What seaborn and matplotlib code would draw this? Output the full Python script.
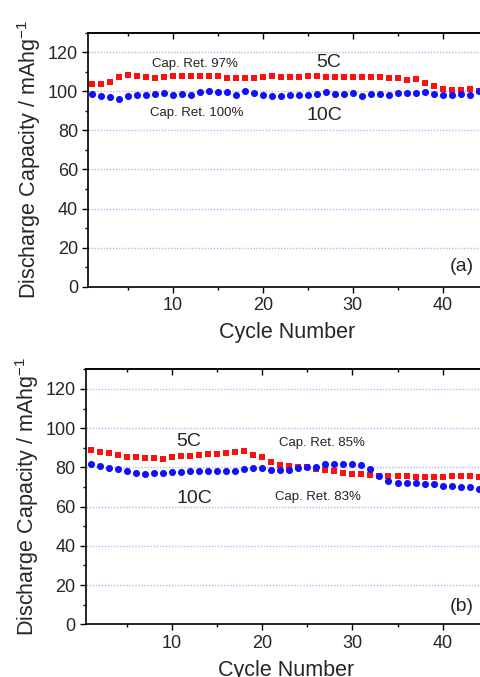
import matplotlib
matplotlib.use("Agg")
import matplotlib.pyplot as plt
from matplotlib.ticker import MultipleLocator
import numpy as np
import pandas as pd
import seaborn as sns

sns.set_style("white")
plt.rcParams['font.family'] = ['Liberation Sans', 'DejaVu Sans']

cycles = list(range(1, 45))

a_5C = [103.5, 104, 105, 107.2, 108.2, 108, 107.5, 106.9, 107.4, 107.7,
        108, 107.9, 108, 107.7, 107.7, 107, 106.9, 106.7, 106.7, 107.5,
        107.7, 107.5, 107.2, 107.2, 107.7, 107.7, 107.5, 107.5, 107.4, 107.4,
        107.2, 107.2, 107.2, 107, 106.9, 105.7, 106.4, 104.5, 102.8, 101,
        100.7, 100.7, 101, 100.2]
a_10C = [98.7, 97.5, 97.2, 96.1, 97.8, 98.2, 98.2, 98.7, 99, 98.3,
         98.7, 98, 99.4, 100, 99.7, 99.4, 98.2, 100, 99, 98.3,
         97.7, 97.8, 98.2, 98, 98, 98.5, 99.7, 98.7, 98.5, 98.9,
         97.7, 98.7, 98.7, 98.3, 99.2, 98.9, 98.9, 99.4, 98.5, 98.3,
         98.3, 98.5, 98.3, 100]
b_5C = [88.7, 87.9, 87.2, 86.2, 85.2, 85.2, 85, 85, 84.5, 85.2,
        85.7, 86, 86.4, 86.7, 86.9, 87.4, 87.9, 88.4, 86.2, 85.2,
        82.8, 81.4, 80.7, 80.4, 80.1, 79, 78.5, 77.9, 77.2, 76.8,
        76.5, 76, 75.6, 75.6, 75.5, 75.5, 75.3, 75, 75, 75.1,
        75.5, 75.5, 75.5, 75]
b_10C = [81.6, 80.9, 79.7, 79, 78.2, 77.2, 76.8, 77, 77.3, 77.7,
         77.7, 78, 78.4, 78.2, 78.4, 78.2, 78.4, 79.4, 79.7, 79.6,
         78.9, 78.7, 78.7, 79.6, 80.1, 80.2, 81.6, 81.8, 81.9, 81.6,
         81.1, 79.4, 75.6, 73.3, 72.2, 72.2, 71.9, 71.4, 71.4, 70.5,
         70.5, 69.9, 70, 69.2]

W, H = 481, 677
fig = plt.figure(figsize=(W / 100, H / 100), dpi=100)

def px_axes(left, top, bottom, right=486):
    return fig.add_axes([left / W, 1 - bottom / H, (right - left) / W, (bottom - top) / H])

ax_a = px_axes(88.3, 32.7, 286.7)
ax_b = px_axes(86.0, 369.3, 624.3)

grid_color = '#b4b8f2'

def style(ax, xl):
    ax.set_xlim(*xl)
    ax.set_ylim(0, 130)
    ax.xaxis.set_major_locator(MultipleLocator(10))
    ax.xaxis.set_minor_locator(MultipleLocator(5))
    ax.yaxis.set_major_locator(MultipleLocator(20))
    ax.yaxis.set_minor_locator(MultipleLocator(10))
    ax.set_yticks([0, 20, 40, 60, 80, 100, 120])
    ax.set_xticks([10, 20, 30, 40])
    ax.tick_params(axis='both', which='major', direction='out', length=4.5, width=1.0,
                   labelsize=13, pad=3, color='black', left=True, bottom=True)
    ax.tick_params(axis='both', which='minor', direction='out', length=2.5, width=1.0,
                   left=True, bottom=True, color='black')
    ax.grid(False)
    for y in [20, 40, 60, 80, 100, 120]:
        ax.axhline(y, color=grid_color, lw=1.0, ls=(0, (1, 1.2)), zorder=0)
    for s in ['left', 'bottom', 'top']:
        ax.spines[s].set_visible(True)
        ax.spines[s].set_color('black')
        ax.spines[s].set_linewidth(1.2)
    ax.spines['right'].set_visible(False)
    sec = ax.secondary_xaxis('top')
    sec.xaxis.set_major_locator(MultipleLocator(10))
    sec.xaxis.set_minor_locator(MultipleLocator(5))
    sec.tick_params(which='major', direction='in', length=4.5, width=1.0, labeltop=False, color='black')
    sec.tick_params(which='minor', direction='in', length=2.5, width=1.0, labeltop=False, color='black')
    sec.spines['top'].set_linewidth(1.2)
    ax.set_xlabel('Cycle Number', fontsize=15.5, labelpad=6)
    ax.set_ylabel('Discharge Capacity / mAhg$^{\\mathregular{-1}}$', fontsize=15.5, labelpad=3)

def plot_panel(ax, y5, y10):
    df = pd.DataFrame({'Cycle': cycles * 2, 'Capacity': y5 + y10,
                       'Rate': ['5C'] * len(cycles) + ['10C'] * len(cycles)})
    sns.scatterplot(data=df[df.Rate == '5C'], x='Cycle', y='Capacity', ax=ax,
                    marker='s', color='#ff1010', s=22, linewidth=0, legend=False, zorder=3)
    sns.scatterplot(data=df[df.Rate == '10C'], x='Cycle', y='Capacity', ax=ax,
                    marker='o', color='#1010ff', s=26, linewidth=0, legend=False, zorder=4)

plot_panel(ax_a, a_5C, a_10C)
plot_panel(ax_b, b_5C, b_10C)
style(ax_a, (0.6, 44.8))
style(ax_b, (0.5, 44.8))

ax_a.text(12.4, 113.9, 'Cap. Ret. 97%', fontsize=9.5, ha='center', va='center', color='#222222')
ax_a.text(27.3, 115.0, '5C', fontsize=14, ha='center', va='center')
ax_a.text(12.7, 88.9, 'Cap. Ret. 100%', fontsize=9.5, ha='center', va='center', color='#222222')
ax_a.text(26.8, 87.8, '10C', fontsize=14, ha='center', va='center')
ax_a.text(42.1, 10.5, '(a)', fontsize=14, ha='center', va='center')

ax_b.text(11.9, 93.1, '5C', fontsize=14, ha='center', va='center')
ax_b.text(26.6, 92.3, 'Cap. Ret. 85%', fontsize=9.5, ha='center', va='center', color='#222222')
ax_b.text(12.5, 64.2, '10C', fontsize=14, ha='center', va='center')
ax_b.text(26.2, 65.1, 'Cap. Ret. 83%', fontsize=9.5, ha='center', va='center', color='#222222')
ax_b.text(42.1, 9.0, '(b)', fontsize=14, ha='center', va='center')

fig.savefig('out.png', dpi=100)
